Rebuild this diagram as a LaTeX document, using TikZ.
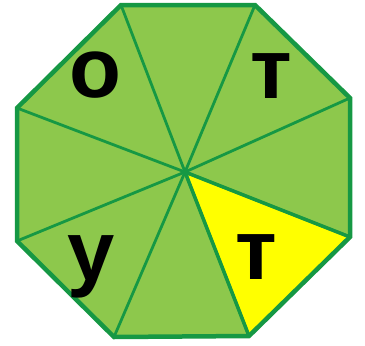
\documentclass[tikz,border=0pt]{standalone}
\usepackage{fontspec}
\setmainfont{Liberation Sans}
\definecolor{leaf}{RGB}{141,200,76}
\definecolor{edge}{RGB}{22,152,68}
\definecolor{sun}{RGB}{255,255,0}
\begin{document}
\begin{tikzpicture}[x=1pt,y=-1pt,
  letter/.style={anchor=base,inner sep=0pt,font=\bfseries\fontsize{85}{85}\selectfont},
  spoke/.style={draw=edge,line width=2.8pt},
  rim/.style={draw=edge,line width=4.5pt,line join=miter}]
\useasboundingbox (0,0) rectangle (365,346);
\coordinate (O) at (185,172);
\coordinate (A) at (121,5);
\coordinate (B) at (255,5);
\coordinate (C) at (350,98);
\coordinate (D) at (350,237);
\coordinate (E) at (249,336);
\coordinate (F) at (114,337);
\coordinate (G) at (17,241);
\coordinate (H) at (17,108);
\fill[leaf] (A) -- (B) -- (C) -- (D) -- (E) -- (F) -- (G) -- (H) -- cycle;
\fill[sun] (O) -- (D) -- (E) -- cycle;
\foreach \v in {A,B,C,D,E,F,G,H} \draw[spoke] (O) -- (\v);
\draw[spoke,line width=3.5pt] (O) -- (D) (O) -- (E);
\draw[rim] (A) -- (B) -- (C) -- (D) -- (E) -- (F) -- (G) -- (H) -- cycle;
\node[letter] (l1) at (95,97) {о};
\node[letter] (l2) at (271,98) {т};
\node[letter] (l3) at (91,280) {у};
\node[letter] (l4) at (256,279) {т};
\end{tikzpicture}
\end{document}
